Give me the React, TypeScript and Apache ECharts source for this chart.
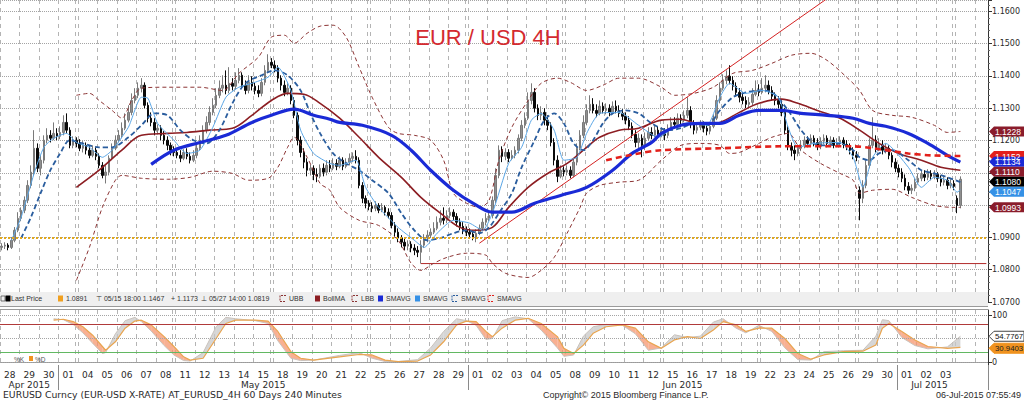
import React, { useEffect, useRef } from 'react';
import * as echarts from 'echarts';

const FONT = 'DejaVu Sans';
const SANS = 'Liberation Sans';

// ---------- calendar ----------
const dayLabels = ['28','29','30','01','04','05','06','07','08','11','12','13','14','15','18','19','20','21','22','25','26','27','28','29','01','02','03','04','05','08','09','10','11','12','15','16','17','18','19','22','23','24','25','26','29','30','01','02','03','06'];
const monthLabels = ['Apr 2015', 'May 2015', 'Jun 2015', 'Jul 2015'];
const monthStartDay = [0, 3, 24, 46];
const weekStartDay = [4, 9, 14, 19, 24, 29, 34, 39, 44, 49];
const BARS_PER_DAY = 6;
const SLOTS = 304;

// ---------- EURUSD 4H candles (one line per trading day) ----------
const opens = [
1.0869,1.0873,1.0876,1.0869,1.0891,1.0922,
1.0959,1.0984,1.1015,1.1061,1.1102,1.1176,
1.1114,1.1139,1.1201,1.1216,1.1207,1.1222,
1.1213,1.1225,1.1256,1.1232,1.1185,1.1201,
1.1191,1.1176,1.1185,1.1170,1.1154,1.1170,
1.1151,1.1123,1.1092,1.1102,1.1145,1.1176,
1.1201,1.1216,1.1238,1.1263,1.1287,1.1324,
1.1340,1.1362,1.1371,1.1309,1.1269,1.1256,
1.1232,1.1238,1.1216,1.1201,1.1185,1.1170,
1.1163,1.1154,1.1145,1.1163,1.1151,1.1139,
1.1154,1.1176,1.1201,1.1232,1.1256,1.1287,
1.1309,1.1340,1.1362,1.1371,1.1355,1.1377,
1.1368,1.1386,1.1402,1.1371,1.1355,1.1380,
1.1368,1.1355,1.1346,1.1380,1.1417,1.1442,
1.1433,1.1424,1.1393,1.1371,1.1349,1.1362,
1.1324,1.1278,1.1201,1.1163,1.1133,1.1108,
1.1114,1.1095,1.1089,1.1114,1.1102,1.1123,
1.1114,1.1129,1.1120,1.1139,1.1120,1.1133,
1.1145,1.1151,1.1139,1.1061,1.1021,1.1006,
1.0996,1.0990,1.0999,1.0984,1.0993,1.0978,
1.0968,1.0937,1.0916,1.0898,1.0885,1.0873,
1.0879,1.0867,1.0860,1.0854,1.0876,1.0898,
1.0907,1.0916,1.0928,1.0947,1.0959,1.0953,
1.0968,1.0978,1.0965,1.0947,1.0934,1.0922,
1.0916,1.0910,1.0901,1.0913,1.0928,1.0947,
1.0959,1.0968,1.1015,1.1092,1.1170,1.1151,
1.1163,1.1145,1.1154,1.1170,1.1207,1.1247,
1.1269,1.1324,1.1349,1.1300,1.1278,1.1287,
1.1263,1.1247,1.1194,1.1139,1.1089,1.1108,
1.1102,1.1108,1.1092,1.1133,1.1176,1.1216,
1.1256,1.1293,1.1312,1.1293,1.1284,1.1306,
1.1293,1.1300,1.1287,1.1306,1.1293,1.1284,
1.1275,1.1263,1.1244,1.1219,1.1194,1.1207,
1.1185,1.1207,1.1225,1.1216,1.1232,1.1219,
1.1229,1.1216,1.1238,1.1256,1.1250,1.1269,
1.1263,1.1278,1.1293,1.1250,1.1232,1.1241,
1.1247,1.1238,1.1229,1.1244,1.1269,1.1324,
1.1362,1.1386,1.1399,1.1386,1.1368,1.1349,
1.1334,1.1324,1.1312,1.1318,1.1343,1.1355,
1.1349,1.1362,1.1371,1.1355,1.1337,1.1324,
1.1312,1.1287,1.1232,1.1182,1.1170,1.1160,
1.1176,1.1185,1.1201,1.1191,1.1207,1.1194,
1.1182,1.1198,1.1207,1.1191,1.1201,1.1185,
1.1194,1.1201,1.1188,1.1182,1.1170,1.1154,
1.1046,1.1021,1.1061,1.1123,1.1185,1.1201,
1.1176,1.1188,1.1170,1.1176,1.1154,1.1133,
1.1114,1.1102,1.1083,1.1058,1.1046,1.1052,
1.1071,1.1083,1.1095,1.1086,1.1098,1.1089,
1.1095,1.1083,1.1071,1.1077,1.1061,1.1067,
1.1021,1.0999,
];
const closes = [
1.0873,1.0876,1.0869,1.0891,1.0922,1.0959,
1.0984,1.1015,1.1061,1.1102,1.1176,1.1114,
1.1139,1.1201,1.1216,1.1207,1.1222,1.1213,
1.1225,1.1256,1.1232,1.1185,1.1201,1.1191,
1.1176,1.1185,1.1170,1.1154,1.1170,1.1151,
1.1123,1.1092,1.1102,1.1145,1.1176,1.1201,
1.1216,1.1238,1.1263,1.1287,1.1324,1.1340,
1.1362,1.1371,1.1309,1.1269,1.1256,1.1232,
1.1238,1.1216,1.1201,1.1185,1.1170,1.1163,
1.1154,1.1145,1.1163,1.1151,1.1139,1.1154,
1.1176,1.1201,1.1232,1.1256,1.1287,1.1309,
1.1340,1.1362,1.1371,1.1355,1.1377,1.1368,
1.1386,1.1402,1.1371,1.1355,1.1380,1.1368,
1.1355,1.1346,1.1380,1.1417,1.1442,1.1433,
1.1424,1.1393,1.1371,1.1349,1.1362,1.1324,
1.1278,1.1201,1.1163,1.1133,1.1108,1.1114,
1.1095,1.1089,1.1114,1.1102,1.1123,1.1114,
1.1129,1.1120,1.1139,1.1120,1.1133,1.1145,
1.1151,1.1139,1.1061,1.1021,1.1006,1.0996,
1.0990,1.0999,1.0984,1.0993,1.0978,1.0968,
1.0937,1.0916,1.0898,1.0885,1.0873,1.0879,
1.0867,1.0860,1.0854,1.0876,1.0898,1.0907,
1.0916,1.0928,1.0947,1.0959,1.0953,1.0968,
1.0978,1.0965,1.0947,1.0934,1.0922,1.0916,
1.0910,1.0901,1.0913,1.0928,1.0947,1.0959,
1.0968,1.1015,1.1092,1.1170,1.1151,1.1163,
1.1145,1.1154,1.1170,1.1207,1.1247,1.1269,
1.1324,1.1349,1.1300,1.1278,1.1287,1.1263,
1.1247,1.1194,1.1139,1.1089,1.1108,1.1102,
1.1108,1.1092,1.1133,1.1176,1.1216,1.1256,
1.1293,1.1312,1.1293,1.1284,1.1306,1.1293,
1.1300,1.1287,1.1306,1.1293,1.1284,1.1275,
1.1263,1.1244,1.1219,1.1194,1.1207,1.1185,
1.1207,1.1225,1.1216,1.1232,1.1219,1.1229,
1.1216,1.1238,1.1256,1.1250,1.1269,1.1263,
1.1278,1.1293,1.1250,1.1232,1.1241,1.1247,
1.1238,1.1229,1.1244,1.1269,1.1324,1.1362,
1.1386,1.1399,1.1386,1.1368,1.1349,1.1334,
1.1324,1.1312,1.1318,1.1343,1.1355,1.1349,
1.1362,1.1371,1.1355,1.1337,1.1324,1.1312,
1.1287,1.1232,1.1182,1.1170,1.1160,1.1176,
1.1185,1.1201,1.1191,1.1207,1.1194,1.1182,
1.1198,1.1207,1.1191,1.1201,1.1185,1.1194,
1.1201,1.1188,1.1182,1.1170,1.1154,1.1148,
1.1021,1.1061,1.1123,1.1185,1.1201,1.1176,
1.1188,1.1170,1.1176,1.1154,1.1133,1.1114,
1.1102,1.1083,1.1058,1.1046,1.1052,1.1071,
1.1083,1.1095,1.1086,1.1098,1.1089,1.1095,
1.1083,1.1071,1.1077,1.1061,1.1067,1.1058,
1.0999,1.1080,
];
const highs = [
1.0882,1.0885,1.0882,1.0901,1.0932,1.0978,
1.0993,1.1027,1.1077,1.1123,1.1232,1.1191,
1.1154,1.1216,1.1238,1.1232,1.1256,1.1238,
1.1244,1.1278,1.1284,1.1241,1.1213,1.1210,
1.1204,1.1198,1.1194,1.1182,1.1185,1.1179,
1.1160,1.1133,1.1123,1.1154,1.1191,1.1216,
1.1232,1.1256,1.1284,1.1309,1.1346,1.1362,
1.1380,1.1393,1.1380,1.1318,1.1287,1.1269,
1.1250,1.1247,1.1229,1.1213,1.1194,1.1182,
1.1176,1.1170,1.1173,1.1176,1.1163,1.1170,
1.1191,1.1216,1.1247,1.1275,1.1306,1.1331,
1.1362,1.1386,1.1402,1.1417,1.1427,1.1393,
1.1411,1.1424,1.1411,1.1386,1.1402,1.1399,
1.1380,1.1371,1.1393,1.1433,1.1467,1.1455,
1.1448,1.1433,1.1402,1.1386,1.1377,1.1371,
1.1334,1.1287,1.1213,1.1176,1.1145,1.1126,
1.1123,1.1114,1.1126,1.1129,1.1139,1.1139,
1.1145,1.1142,1.1151,1.1148,1.1145,1.1160,
1.1163,1.1170,1.1148,1.1071,1.1030,1.1015,
1.1009,1.1012,1.1006,1.1006,1.0999,1.0990,
1.0978,1.0947,1.0928,1.0907,1.0898,1.0891,
1.0888,1.0879,1.0873,1.0891,1.0910,1.0922,
1.0928,1.0947,1.0965,1.0984,1.0993,1.0984,
1.0993,1.0987,1.0975,1.0959,1.0947,1.0934,
1.0928,1.0922,1.0925,1.0940,1.0959,1.0975,
1.0984,1.1027,1.1114,1.1185,1.1182,1.1176,
1.1173,1.1170,1.1182,1.1219,1.1263,1.1287,
1.1349,1.1377,1.1362,1.1312,1.1306,1.1300,
1.1278,1.1256,1.1207,1.1154,1.1123,1.1120,
1.1123,1.1120,1.1145,1.1191,1.1232,1.1278,
1.1312,1.1340,1.1331,1.1312,1.1324,1.1318,
1.1315,1.1312,1.1321,1.1324,1.1309,1.1297,
1.1287,1.1275,1.1256,1.1232,1.1222,1.1219,
1.1225,1.1241,1.1241,1.1247,1.1244,1.1241,
1.1238,1.1250,1.1272,1.1272,1.1284,1.1281,
1.1293,1.1334,1.1306,1.1263,1.1256,1.1263,
1.1259,1.1250,1.1256,1.1281,1.1340,1.1380,
1.1405,1.1417,1.1433,1.1399,1.1380,1.1362,
1.1349,1.1337,1.1334,1.1362,1.1386,1.1374,
1.1393,1.1402,1.1386,1.1368,1.1349,1.1337,
1.1324,1.1300,1.1244,1.1194,1.1185,1.1188,
1.1201,1.1213,1.1213,1.1219,1.1216,1.1207,
1.1210,1.1219,1.1216,1.1213,1.1210,1.1207,
1.1213,1.1210,1.1201,1.1191,1.1179,1.1167,
1.1058,1.1077,1.1139,1.1207,1.1272,1.1216,
1.1207,1.1201,1.1191,1.1185,1.1163,1.1145,
1.1126,1.1114,1.1095,1.1071,1.1064,1.1083,
1.1098,1.1108,1.1108,1.1111,1.1108,1.1108,
1.1102,1.1092,1.1089,1.1086,1.1080,1.1077,
1.1030,1.1089,
];
const lows = [
1.0860,1.0864,1.0860,1.0864,1.0885,1.0916,
1.0950,1.0975,1.1006,1.1052,1.1092,1.1102,
1.1092,1.1129,1.1191,1.1194,1.1201,1.1201,
1.1204,1.1216,1.1222,1.1176,1.1176,1.1179,
1.1167,1.1163,1.1157,1.1145,1.1148,1.1139,
1.1114,1.1083,1.1067,1.1092,1.1139,1.1170,
1.1194,1.1207,1.1232,1.1256,1.1278,1.1315,
1.1331,1.1349,1.1300,1.1256,1.1244,1.1216,
1.1219,1.1201,1.1188,1.1170,1.1154,1.1151,
1.1145,1.1133,1.1139,1.1142,1.1129,1.1133,
1.1145,1.1170,1.1191,1.1222,1.1247,1.1278,
1.1300,1.1331,1.1349,1.1343,1.1346,1.1355,
1.1358,1.1377,1.1362,1.1343,1.1346,1.1355,
1.1343,1.1334,1.1337,1.1371,1.1411,1.1424,
1.1411,1.1380,1.1355,1.1337,1.1340,1.1312,
1.1269,1.1185,1.1148,1.1114,1.1089,1.1092,
1.1077,1.1071,1.1083,1.1089,1.1092,1.1102,
1.1108,1.1108,1.1114,1.1108,1.1114,1.1123,
1.1133,1.1129,1.1052,1.1006,1.0990,1.0984,
1.0978,1.0981,1.0975,1.0978,1.0968,1.0959,
1.0928,1.0904,1.0885,1.0869,1.0860,1.0860,
1.0854,1.0845,1.0839,1.0819,1.0867,1.0885,
1.0898,1.0910,1.0922,1.0937,1.0940,1.0944,
1.0959,1.0953,1.0934,1.0922,1.0910,1.0904,
1.0901,1.0891,1.0885,1.0907,1.0919,1.0937,
1.0950,1.0959,1.1006,1.1083,1.1133,1.1139,
1.1133,1.1139,1.1145,1.1160,1.1198,1.1238,
1.1263,1.1312,1.1287,1.1263,1.1263,1.1247,
1.1232,1.1182,1.1123,1.1071,1.1083,1.1089,
1.1092,1.1083,1.1086,1.1123,1.1170,1.1207,
1.1247,1.1284,1.1284,1.1272,1.1278,1.1284,
1.1281,1.1275,1.1281,1.1284,1.1272,1.1263,
1.1250,1.1232,1.1207,1.1179,1.1170,1.1148,
1.1170,1.1201,1.1204,1.1210,1.1207,1.1210,
1.1201,1.1207,1.1232,1.1238,1.1244,1.1250,
1.1256,1.1269,1.1238,1.1219,1.1222,1.1232,
1.1225,1.1216,1.1219,1.1238,1.1263,1.1315,
1.1355,1.1374,1.1374,1.1355,1.1337,1.1318,
1.1312,1.1300,1.1303,1.1309,1.1337,1.1337,
1.1343,1.1349,1.1343,1.1324,1.1309,1.1300,
1.1275,1.1219,1.1170,1.1151,1.1139,1.1151,
1.1167,1.1176,1.1179,1.1182,1.1182,1.1170,
1.1173,1.1188,1.1179,1.1182,1.1176,1.1179,
1.1185,1.1176,1.1170,1.1157,1.1142,1.1136,
1.0953,1.1006,1.1052,1.1114,1.1176,1.1163,
1.1167,1.1157,1.1160,1.1142,1.1117,1.1102,
1.1086,1.1071,1.1046,1.1034,1.1034,1.1043,
1.1064,1.1074,1.1074,1.1077,1.1077,1.1080,
1.1071,1.1058,1.1061,1.1049,1.1052,1.1046,
1.0975,1.0990,
];

// ---------- studies: [bar index, value] ----------
const smaThickBlue = [[46,1.1126],[53,1.1170],[61,1.1194],[69,1.1216],[77,1.1256],[83,1.1278],[90,1.1297],[96,1.1278],[101,1.1266],[104,1.1256],[111,1.1247],[120,1.1216],[126,1.1170],[132,1.1108],[139,1.1046],[145,1.1006],[151,1.0978],[157,1.0978],[164,1.1006],[172,1.1030],[180,1.1055],[188,1.1108],[194,1.1160],[200,1.1194],[203,1.1222],[209,1.1247],[215,1.1253],[221,1.1253],[227,1.1278],[233,1.1293],[240,1.1293],[246,1.1284],[254,1.1278],[262,1.1269],[267,1.1253],[272,1.1244],[279,1.1222],[285,1.1191],[291,1.1154],[295,1.1133]];
const bollMA = [[23,1.1055],[30,1.1108],[37,1.1170],[43,1.1216],[51,1.1222],[57,1.1225],[64,1.1232],[71,1.1238],[77,1.1278],[83,1.1324],[88,1.1346],[93,1.1343],[98,1.1315],[104,1.1269],[110,1.1210],[116,1.1148],[123,1.1086],[129,1.1024],[135,1.0975],[141,1.0931],[146,1.0922],[151,1.0931],[156,1.0993],[162,1.1055],[168,1.1098],[174,1.1129],[180,1.1179],[184,1.1210],[190,1.1232],[196,1.1238],[203,1.1263],[209,1.1266],[215,1.1250],[221,1.1256],[227,1.1287],[233,1.1315],[240,1.1328],[245,1.1315],[251,1.1293],[258,1.1269],[264,1.1232],[270,1.1191],[276,1.1160],[283,1.1139],[289,1.1117],[295,1.1108]];
const upperBand = [[23,1.1340],[27,1.1346],[30,1.1324],[34,1.1293],[37,1.1269],[40,1.1324],[43,1.1362],[51,1.1365],[61,1.1365],[68,1.1355],[73,1.1408],[79,1.1458],[83,1.1520],[87,1.1526],[90,1.1501],[94,1.1532],[98,1.1554],[102,1.1557],[106,1.1520],[110,1.1427],[114,1.1334],[119,1.1241],[122,1.1222],[127,1.1216],[132,1.1201],[136,1.1139],[139,1.1037],[143,1.1006],[147,1.0993],[150,1.1015],[153,1.1139],[157,1.1241],[162,1.1324],[166,1.1377],[171,1.1393],[175,1.1380],[180,1.1355],[185,1.1371],[190,1.1393],[196,1.1393],[203,1.1365],[207,1.1340],[213,1.1346],[219,1.1365],[225,1.1408],[231,1.1417],[237,1.1439],[243,1.1464],[249,1.1470],[254,1.1448],[260,1.1396],[264,1.1355],[268,1.1293],[274,1.1278],[280,1.1272],[287,1.1247],[291,1.1225],[295,1.1228]];
const lowerBand = [[23,1.0767],[27,1.0869],[31,1.0993],[35,1.1077],[37,1.1092],[43,1.1083],[51,1.1080],[58,1.1086],[65,1.1105],[71,1.1098],[76,1.1077],[82,1.1083],[85,1.1117],[88,1.1179],[90,1.1210],[94,1.1148],[98,1.1067],[101,1.1046],[104,1.0993],[110,1.0953],[116,1.0937],[122,1.0891],[126,1.0820],[129,1.0798],[133,1.0820],[137,1.0838],[143,1.0851],[149,1.0845],[151,1.0820],[155,1.0789],[162,1.0776],[166,1.0798],[170,1.0838],[174,1.0913],[178,1.0993],[180,1.1037],[184,1.1061],[190,1.1071],[196,1.1077],[203,1.1139],[209,1.1185],[215,1.1191],[221,1.1185],[224,1.1160],[227,1.1163],[233,1.1191],[237,1.1210],[242,1.1222],[246,1.1170],[252,1.1129],[258,1.1098],[262,1.1077],[264,1.1037],[268,1.1046],[274,1.1049],[280,1.1024],[287,1.0999],[293,1.0993],[295,1.0993]];
const smaDashedBlue = [[6,1.0898],[9,1.0962],[12,1.1037],[15,1.1108],[18,1.1160],[21,1.1201],[25,1.1191],[30,1.1179],[34,1.1179],[39,1.1210],[43,1.1247],[47,1.1284],[51,1.1278],[55,1.1232],[59,1.1201],[63,1.1191],[67,1.1232],[71,1.1315],[75,1.1377],[80,1.1402],[84,1.1417],[88,1.1402],[92,1.1355],[95,1.1284],[98,1.1222],[102,1.1160],[106,1.1129],[110,1.1108],[114,1.1077],[119,1.1037],[123,1.0975],[127,1.0922],[131,1.0891],[135,1.0898],[139,1.0913],[143,1.0922],[147,1.0913],[150,1.0931],[153,1.0975],[157,1.1037],[160,1.1117],[164,1.1201],[167,1.1263],[170,1.1284],[173,1.1253],[176,1.1191],[179,1.1170],[182,1.1201],[185,1.1253],[188,1.1284],[192,1.1293],[196,1.1284],[200,1.1253],[205,1.1232],[209,1.1238],[213,1.1253],[217,1.1247],[221,1.1293],[225,1.1334],[229,1.1349],[233,1.1355],[237,1.1349],[242,1.1293],[246,1.1232],[250,1.1191],[254,1.1185],[258,1.1191],[262,1.1170],[264,1.1148],[267,1.1139],[270,1.1160],[274,1.1170],[279,1.1139],[283,1.1108],[287,1.1098],[291,1.1086],[295,1.1071]];
const smaLightBlue = [[3,1.0891],[6,1.0962],[10,1.1098],[13,1.1179],[16,1.1207],[20,1.1222],[23,1.1194],[27,1.1179],[31,1.1148],[34,1.1170],[39,1.1241],[43,1.1334],[45,1.1331],[48,1.1253],[53,1.1201],[57,1.1160],[61,1.1170],[65,1.1241],[69,1.1334],[73,1.1365],[77,1.1377],[82,1.1396],[85,1.1427],[89,1.1355],[92,1.1232],[96,1.1160],[101,1.1129],[104,1.1123],[109,1.1139],[112,1.1055],[116,1.0993],[122,1.0931],[127,1.0891],[130,1.0869],[134,1.0913],[139,1.0953],[144,1.0944],[148,1.0922],[151,1.0975],[156,1.1129],[160,1.1179],[163,1.1263],[166,1.1284],[170,1.1232],[173,1.1139],[177,1.1148],[180,1.1222],[184,1.1284],[190,1.1287],[196,1.1247],[202,1.1210],[207,1.1241],[212,1.1256],[217,1.1247],[221,1.1334],[224,1.1377],[229,1.1346],[234,1.1355],[239,1.1334],[242,1.1241],[245,1.1179],[250,1.1191],[258,1.1194],[262,1.1148],[265,1.1055],[268,1.1148],[272,1.1191],[279,1.1117],[283,1.1055],[287,1.1086],[291,1.1077],[294,1.1040],[295,1.1047]];
const smaDashedRed = [[186,1.1139],[196,1.1160],[203,1.1170],[221,1.1176],[240,1.1182],[262,1.1182],[268,1.1176],[279,1.1160],[286,1.1154],[295,1.1152]];
const trendLine = [[147,1.0882],[262,1.1696]];
const refLevel = 1.0891;

// ---------- stochastic (lower panel) ----------
const stochIdx = [16,19,22,25,28,31,32,35,38,41,43,46,50,53,56,58,62,66,69,72,78,82,85,89,92,96,104,110,114,118,122,128,132,136,140,143,146,149,151,154,158,162,166,171,173,176,179,182,186,191,195,199,203,207,211,215,219,222,226,229,233,237,241,245,249,253,259,265,269,271,273,277,281,285,291,295];
const stochD = [89,91,86,75,57,33,25,43,72,87,89,79,54,33,11,4,8,50,82,89,89,87,65,22,8,4,11,16,15,4,1,2,15,43,79,87,86,65,54,72,89,93,82,54,29,18,36,61,75,79,72,43,29,47,54,50,68,86,79,65,72,72,50,18,6,15,22,23,36,72,82,65,47,33,29,30.94];
const stochK = [92,90,80,62,40,18,20,60,88,95,86,66,35,15,3,2,20,75,95,92,88,82,45,8,3,4,14,20,8,1,1,5,30,65,92,88,78,48,50,88,96,92,68,30,12,15,55,75,80,78,60,25,30,58,52,55,85,92,72,62,78,65,30,5,4,22,24,25,55,90,88,52,35,28,32,54.78];

// ---------- right-hand value tags ----------
const priceTags = [
  { v: 1.1228, t: '1.1228', bg: '#8a1c2b', fg: '#ffffff', stack: false },
  { v: 1.1152, t: '1.1152', bg: '#e3201b', fg: '#ffffff', stack: false },
  { v: 1.1134, t: '1.1134', bg: '#1a2ad6', fg: '#ffffff', stack: true },
  { v: 1.1110, t: '1.1110', bg: '#8a1c2b', fg: '#ffffff', stack: true },
  { v: 1.1080, t: '1.1080', bg: '#000000', fg: '#ffffff', stack: true },
  { v: 1.1047, t: '1.1047', bg: '#3591e6', fg: '#ffffff', stack: true },
  { v: 1.0993, t: '1.0993', bg: '#8a1c2b', fg: '#ffffff', stack: true },
];
const stochTags = [
  { v: 54.7767, t: '54.7767', bg: '#ffffff', fg: '#111111', border: '#444444' },
  { v: 30.9403, t: '30.9403', bg: '#f0921f', fg: '#222222', border: '#f0921f' },
];

const legendItems = [
  { kind: 'none', text: 'Last Price', x: 11 },
  { kind: 'square', color: '#f0a020', text: '1.0891', x: 58 },
  { kind: 'none', text: '\u22a4 05/15 18:00 1.1467', x: 96 },
  { kind: 'none', text: '+ 1.1173', x: 171 },
  { kind: 'none', text: '\u22a5 05/27 14:00 1.0819', x: 201 },
  { kind: 'bracket', color: '#8c3434', text: 'UBB', x: 280 },
  { kind: 'square', color: '#8c1d22', text: 'BollMA', x: 315 },
  { kind: 'bracket', color: '#8c3434', text: 'LBB', x: 352 },
  { kind: 'square', color: '#1a2ad6', text: 'SMAVG', x: 378 },
  { kind: 'square', color: '#3591e6', text: 'SMAVG', x: 415 },
  { kind: 'bracket', color: '#2a5d9e', text: 'SMAVG', x: 452 },
  { kind: 'bracket', color: '#e3201b', text: 'SMAVG', x: 488 },
];

const C = {
  grid: '#b4b4b4',
  hgrid: '#a4a4a4',
  axis: '#333333',
  text: '#2a2a2a',
};

function buildOption() {
  const nBars = closes.length;
  const cats = Array.from({ length: SLOTS }, (_, i) => String(i));
  const ohlc = opens.map((o, i) => [o, closes[i], lows[i], highs[i]]);
  const weekBars = weekStartDay.map((d) => d * BARS_PER_DAY);
  const vLine = (i: number) => i % BARS_PER_DAY === 0 || weekBars.includes(i + 1);
  const monthStartBar = monthStartDay.map((d) => d * BARS_PER_DAY);
  const monthCenter = monthStartBar.map((s, m) => {
    const e = (m + 1 < monthStartBar.length ? monthStartBar[m + 1] : nBars) - 1;
    return Math.ceil((s + e) / 2);
  });
  let minIdx = 0;
  lows.forEach((l, i) => { if (l < lows[minIdx]) minIdx = i; });
  const support = [[minIdx, lows[minIdx]], [SLOTS - 1, lows[minIdx]]];

  const fillData = [];
  for (let i = 0; i + 1 < stochIdx.length; i++) {
    fillData.push([stochIdx[i], stochK[i], stochD[i], stochIdx[i + 1], stochK[i + 1], stochD[i + 1]]);
  }

  // axis labels that sit under a value tag are hidden on the terminal
  const underTag = (v: number) => priceTags.some((p) => Math.abs(p.v - v) < 0.0018);

  const splitLine = { show: true, interval: vLine, lineStyle: { color: C.grid, type: [4, 4], width: 1 } };
  const line = (data: number[][], color: string, width: number, type: any = 'solid', smooth: any = 0.35, z = 3) => ({
    type: 'line', xAxisIndex: 0, yAxisIndex: 0, data, showSymbol: false, symbol: 'none', smooth,
    lineStyle: { color, width, type }, silent: true, z,
  });

  return {
    animation: false,
    backgroundColor: '#ffffff',
    grid: [
      { left: 0, right: 36, top: 0, height: 302 },
      { left: 0, right: 36, top: 310, height: 55 },
    ],
    xAxis: [
      { type: 'category', gridIndex: 0, data: cats, boundaryGap: true,
        axisLine: { show: false }, axisTick: { show: false }, axisLabel: { show: false }, splitLine },
      { type: 'category', gridIndex: 1, data: cats, boundaryGap: true,
        axisLine: { show: true, lineStyle: { color: '#9a9a9a' } }, axisTick: { show: false },
        axisLabel: {
          interval: (i: number) => i % BARS_PER_DAY === 3 && i < nBars,
          formatter: (_v: string, i: number) => dayLabels[Math.floor(i / BARS_PER_DAY)] || '',
          fontSize: 9, color: C.text, fontFamily: FONT, margin: 5, padding: [0, 3.25, 0, 0],
        },
        splitLine },
      { type: 'category', gridIndex: 1, data: cats, boundaryGap: true, position: 'bottom',
        axisLine: { show: false },
        axisTick: { show: true, interval: (i: number) => monthStartBar.includes(i) && i > 0, length: 25, lineStyle: { color: '#8a8a8a' } },
        axisLabel: {
          interval: (i: number) => monthCenter.includes(i),
          formatter: (_v: string, i: number) => monthLabels[monthCenter.indexOf(i)] || '',
          fontSize: 9, color: C.text, fontFamily: FONT, margin: 15, padding: [0, 3.25, 0, 0],
        },
        splitLine: { show: false } },
    ],
    yAxis: [
      { type: 'value', gridIndex: 0, position: 'right', min: 1.07, max: 1.1635, interval: 0.01,
        axisLine: { show: true, lineStyle: { color: C.axis } },
        axisTick: { show: true, length: 4, lineStyle: { color: C.axis } },
        minorTick: { show: true, splitNumber: 5, length: 2, lineStyle: { color: '#666' } },
        axisLabel: {
          formatter: (v: number) => (Math.abs(v * 100 - Math.round(v * 100)) < 1e-6 && !underTag(v) ? v.toFixed(4) : ''),
          fontSize: 8, color: C.text, fontFamily: FONT, margin: 4,
        },
        splitLine: { show: true, lineStyle: { color: C.hgrid, type: 'dotted' } } },
      { type: 'value', gridIndex: 1, position: 'right', min: -6.38, max: 110.64,
        axisLine: { show: true, lineStyle: { color: C.axis } },
        axisTick: { show: true, length: 4, customValues: [0, 100], lineStyle: { color: C.axis } },
        axisLabel: { customValues: [0, 100], formatter: (v: number) => String(Math.round(v)), fontSize: 8, color: C.text, fontFamily: FONT, margin: 4 },
        splitLine: { show: false } },
    ],
    series: [
      { type: 'candlestick', xAxisIndex: 0, yAxisIndex: 0, data: ohlc, barWidth: 2, silent: true, z: 2,
        itemStyle: { color: '#8f8f8f', color0: '#0a0a0a', borderColor: '#7a7a7a', borderColor0: '#0a0a0a', borderWidth: 1 },
        markLine: { silent: true, symbol: ['none', 'none'], label: { show: false },
          lineStyle: { color: '#e1a81e', type: 'dotted', width: 2 }, data: [{ yAxis: refLevel }] } },
      line(support, '#b22a2a', 1, 'solid', false),
      line(trendLine, '#d42222', 1, 'solid', false),
      line(upperBand, '#8c3434', 1, [4, 3], 0.3),
      line(lowerBand, '#8c3434', 1, [4, 3], 0.3),
      line(bollMA, '#8c1d22', 1.6, 'solid', 0.35),
      line(smaThickBlue, '#1a2ad6', 3.2, 'solid', 0.35, 4),
      line(smaDashedBlue, '#2a5d9e', 1.8, [5, 3], 0.3),
      line(smaLightBlue, '#5aa6e6', 1, 'solid', 0.2),
      line(smaDashedRed, '#e3201b', 2.6, [6, 4], 0.3, 5),
      { type: 'custom', xAxisIndex: 1, yAxisIndex: 1, data: fillData, silent: true, z: 2,
        encode: { x: 0, y: [1, 2] },
        renderItem: (_p: any, api: any) => {
          const a = api.coord([api.value(0), api.value(1)]);
          const b = api.coord([api.value(3), api.value(4)]);
          const c = api.coord([api.value(3), api.value(5)]);
          const d = api.coord([api.value(0), api.value(2)]);
          const below = api.value(1) + api.value(4) < api.value(2) + api.value(5);
          return { type: 'polygon', shape: { points: [a, b, c, d] },
            style: { fill: below ? 'rgba(245,150,110,0.75)' : 'rgba(200,200,200,0.75)', stroke: 'none' } };
        } },
      { type: 'line', xAxisIndex: 1, yAxisIndex: 1, data: stochIdx.map((x, i) => [x, stochK[i]]),
        showSymbol: false, symbol: 'none', lineStyle: { color: '#c9c2bc', width: 1 }, silent: true, z: 3 },
      { type: 'line', xAxisIndex: 1, yAxisIndex: 1, data: stochIdx.map((x, i) => [x, stochD[i]]),
        showSymbol: false, symbol: 'none', lineStyle: { color: '#e9a550', width: 1.2 }, silent: true, z: 4,
        markLine: { silent: true, symbol: ['none', 'none'], label: { show: false },
          data: [
            { yAxis: 100, lineStyle: { color: C.hgrid, type: 'dotted', width: 1 } },
            { yAxis: 50, lineStyle: { color: C.hgrid, type: 'dotted', width: 1 } },
            { yAxis: 0, lineStyle: { color: C.hgrid, type: 'dotted', width: 1 } },
            { yAxis: 80, lineStyle: { color: '#b03a3a', type: 'solid', width: 1 } },
            { yAxis: 20, lineStyle: { color: '#62b862', type: 'solid', width: 1 } },
          ] } },
    ],
  };
}

function txt(x: number, y: number, text: string, size: number, fill = C.text, align = 'left', family = SANS, z = 55) {
  return {
    type: 'text', z, x, y, silent: true,
    style: { text, fill, fontSize: size, fontFamily: family, textAlign: align, textVerticalAlign: 'middle' },
  };
}

function tag(y: number, text: string, bg: string, fg: string, size: number, border?: string) {
  return {
    type: 'group',
    children: [
      { type: 'polygon', z: 60, silent: true, shape: { points: [[989, y], [994, y - 5], [1024, y - 5], [1024, y + 5], [994, y + 5]] },
        style: { fill: bg, stroke: border || bg, lineWidth: border ? 1 : 0 } },
      txt(995, y + 0.5, text, size, fg, 'left', SANS, 61),
    ],
  };
}

function buildGraphics(chart: any) {
  const g: any[] = [];

  // title
  g.push(txt(488, 37, 'EUR / USD 4H', 22, '#d42a2f', 'center', SANS));

  // legend row
  g.push({ type: 'rect', z: 50, silent: true, shape: { x: 0, y: 292, width: 988, height: 14 }, style: { fill: '#efefef' } });
  g.push({ type: 'line', z: 51, silent: true, shape: { x1: 0, y1: 306.5, x2: 988, y2: 306.5 }, style: { stroke: '#9a9a9a', lineWidth: 1 } });
  g.push({ type: 'line', z: 51, silent: true, shape: { x1: 0, y1: 309.5, x2: 988, y2: 309.5 }, style: { stroke: '#9a9a9a', lineWidth: 1 } });
  g.push({ type: 'rect', z: 52, silent: true, shape: { x: 1, y: 296, width: 4, height: 5 }, style: { fill: 'none', stroke: '#555', lineWidth: 0.8 } });
  g.push({ type: 'rect', z: 52, silent: true, shape: { x: 5.5, y: 295.5, width: 5, height: 6 }, style: { fill: '#000' } });
  const ly = 298.5;
  legendItems.forEach((it) => {
    let tx = it.x;
    if (it.kind === 'square') {
      g.push({ type: 'rect', z: 52, silent: true, shape: { x: it.x, y: ly - 3, width: 5, height: 6 }, style: { fill: it.color } });
      tx = it.x + 8;
    } else if (it.kind === 'bracket') {
      g.push({ type: 'polyline', z: 52, silent: true, shape: { points: [[it.x + 6, ly - 3], [it.x, ly - 3], [it.x, ly + 3], [it.x + 6, ly + 3]] },
        style: { stroke: it.color, lineWidth: 1, fill: 'none', lineDash: [2, 1] } });
      tx = it.x + 9;
    }
    g.push(txt(tx, ly, it.text, 7, '#333'));
  });

  // price tags (stacked ones keep a minimum spacing, as on the terminal)
  let prevY = -Infinity;
  priceTags.forEach((p) => {
    let y = chart.convertToPixel({ yAxisIndex: 0 }, p.v);
    if (p.stack) { y = Math.max(y, prevY + 10); prevY = y; }
    g.push(tag(y, p.t, p.bg, p.fg, 8.5));
  });
  let prevS = -Infinity;
  stochTags.forEach((p) => {
    let y = chart.convertToPixel({ yAxisIndex: 1 }, p.v);
    y = Math.max(y, prevS + 12);
    prevS = y;
    g.push(tag(y, p.t, p.bg, p.fg, 7.8, p.border));
  });

  // lower legend
  g.push(txt(14, 359, '%K', 6.5, '#555'));
  g.push({ type: 'rect', z: 52, silent: true, shape: { x: 29, y: 356, width: 4, height: 5 }, style: { fill: '#f0921f' } });
  g.push(txt(35, 359, '%D', 6.5, '#555'));

  // footer
  g.push(txt(3, 394.5, 'EURUSD Curncy (EUR-USD X-RATE) AT_EURUSD_4H 60 Days 240 Minutes', 9.3, C.text, 'left', FONT));
  g.push(txt(543, 394.5, 'Copyright\u00a9 2015 Bloomberg Finance L.P.', 9, C.text, 'left', SANS));
  g.push(txt(1021, 394.5, '06-Jul-2015 07:55:49', 9, C.text, 'right', SANS));
  return g;
}

export default function App() {
  const ref = useRef<HTMLDivElement>(null);
  useEffect(() => {
    document.body.style.margin = '0';
    const chart = echarts.init(ref.current as HTMLDivElement, undefined, { renderer: 'svg' });
    chart.setOption(buildOption() as any);
    chart.setOption({ graphic: buildGraphics(chart) } as any);
    return () => chart.dispose();
  }, []);
  return <div ref={ref} style={{ width: 1024, height: 401, background: '#fff' }} />;
}
